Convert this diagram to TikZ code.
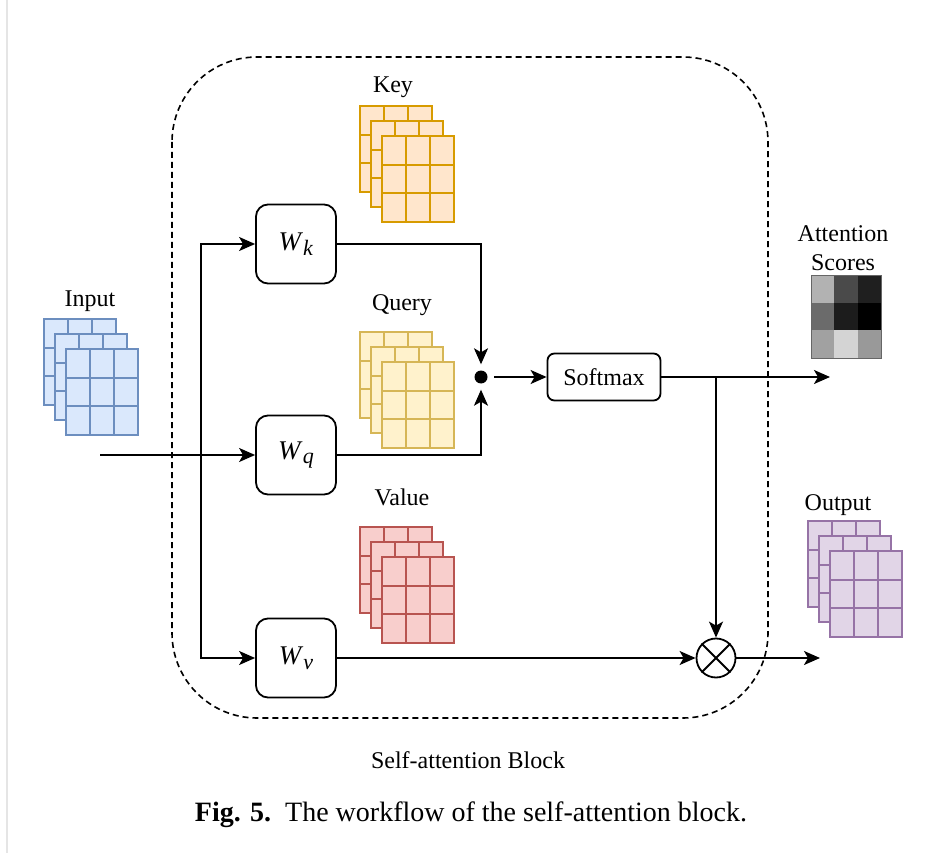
\documentclass[tikz,border=0pt]{standalone}
\usepackage{fontspec}
\setmainfont{Liberation Serif}
\usetikzlibrary{arrows.meta,calc}
\definecolor{keyF}{HTML}{FFE6CC}\definecolor{keyD}{HTML}{D79B00}
\definecolor{qF}{HTML}{FFF2CC}\definecolor{qD}{HTML}{D6B656}
\definecolor{vF}{HTML}{F8CECC}\definecolor{vD}{HTML}{B85450}
\definecolor{inF}{HTML}{DAE8FC}\definecolor{inD}{HTML}{6C8EBF}
\definecolor{outF}{HTML}{E1D5E7}\definecolor{outD}{HTML}{9673A6}
\newcommand\mystack[4]{%
 \foreach \i in {0,1,2}{%
  \begin{scope}[shift={(#1+11*\i,#2+15*\i)}]
   \filldraw[fill=#3,draw=#4,line width=1.6pt] (0,0) rectangle (72,86);
   \draw[#4,line width=1.6pt] (24,0)--(24,86) (48,0)--(48,86) (0,29)--(72,29) (0,57)--(72,57);
  \end{scope}}}
\newcommand\wlab[1]{\textit{W}\raisebox{-0.4ex}{\fontsize{22}{22}\selectfont\textit{#1}}}
\tikzset{
  wbox/.style={draw,line width=1.8pt,rounded corners=12pt,minimum width=80pt,minimum height=79pt,font=\fontsize{27}{30}\selectfont},
  lbl/.style={font=\fontsize{24}{28}\selectfont,inner sep=0pt},
  arr/.style={line width=1.8pt,-{Stealth[length=16pt,width=14pt,inset=4pt]}},
  ln/.style={line width=1.8pt}
}
\begin{document}
\begin{tikzpicture}[x=1pt,y=-1pt]
\fill[white] (0,0) rectangle (943,853);
\useasboundingbox (0,0) rectangle (943,853);
\draw[gray!20,line width=2pt] (7,0) -- (7,853);
% block
\draw[line width=1.6pt,dash pattern=on 6pt off 4pt,rounded corners=85pt] (172,57) rectangle (768,718);
\node[lbl] (blk) at (468,760) {Self-attention Block};
% stacks
\mystack{360}{106}{keyF}{keyD}
\mystack{360}{332}{qF}{qD}
\mystack{360}{527}{vF}{vD}
\mystack{44}{319}{inF}{inD}
\mystack{808}{521}{outF}{outD}
\node[lbl] (keyl) at (393,87) {Key};
\node[lbl] (ql) at (402,305) {Query};
\node[lbl] (vl) at (402,497) {Value};
\node[lbl] (inl) at (90,301) {Input};
\node[lbl] (atl) at (843,234) {Attention};
\node[lbl] (scl) at (843,263) {Scores};
\node[lbl] (outl) at (838,505) {Output};
% attention grid
\begin{scope}[shift={(811,275)}]
 \fill[black!30] (0,0) rectangle (23.3,27.7);
 \fill[black!71] (23.3,0) rectangle (46.7,27.7);
 \fill[black!88] (46.7,0) rectangle (70,27.7);
 \fill[black!58] (0,27.7) rectangle (23.3,55.3);
 \fill[black!89] (23.3,27.7) rectangle (46.7,55.3);
 \fill[black] (46.7,27.7) rectangle (70,55.3);
 \fill[black!37] (0,55.3) rectangle (23.3,83);
 \fill[black!17] (23.3,55.3) rectangle (46.7,83);
 \fill[black!40] (46.7,55.3) rectangle (70,83);
 \draw[black!60,line width=0.8pt] (0,0) rectangle (70,83);
\end{scope}
% nodes
\node[wbox] (wk) at (296,244) {\wlab{k}};
\node[wbox] (wq) at (296,455) {\wlab{q}};
\node[wbox] (wv) at (296,658) {\wlab{v}};
\node[draw,line width=1.8pt,rounded corners=7pt,minimum width=113pt,minimum height=47pt,font=\fontsize{24}{28}\selectfont] (sm) at (604,377) {Softmax};
\node[circle,fill,inner sep=0pt,minimum size=13pt] (dot) at (481,377) {};
\node[circle,draw,line width=1.8pt,inner sep=0pt,minimum size=39pt] (mul) at (716,658) {};
\draw[ln] (mul.north west) -- (mul.south east) (mul.north east) -- (mul.south west);
\coordinate (in) at (100,455);
\coordinate (bx) at (201,455);
\coordinate (as) at (830,377);
\coordinate (out) at (820,658);
% connectors
\draw[arr] (in) -- (wq.west);
\draw[arr] (bx) |- (wk.west);
\draw[arr] (bx) |- (wv.west);
\draw[arr,shorten >=6pt] (wk.east) -| (dot.north);
\draw[arr,shorten >=6pt] (wq.east) -| (dot.south);
\draw[arr,shorten <=13pt] (dot.center) -- (sm.west);
\draw[arr] (sm.east) -- (as);
\draw[arr] (mul |- sm.east) -- (mul.north);
\draw[arr] (wv.east) -- (mul.west);
\draw[arr] (mul.east) -- (out);
% caption
\node (cap) at (471,815) {\fontsize{28}{32}\selectfont\textbf{Fig. 5.}\ \ The workflow of the self-attention block.};
\end{tikzpicture}
\end{document}
